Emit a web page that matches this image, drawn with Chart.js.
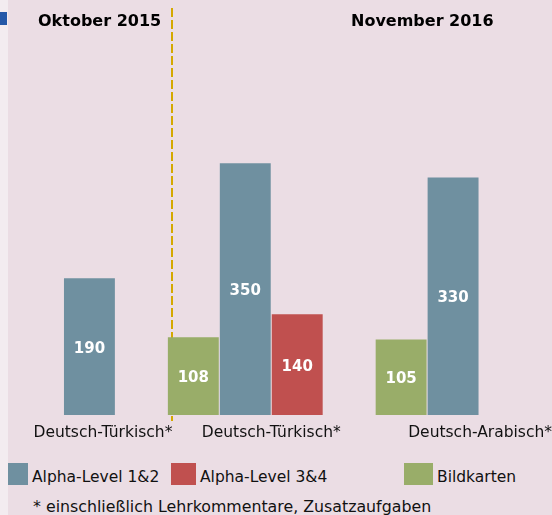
<!DOCTYPE html>
<html>
<head>
<meta charset="utf-8">
<script src="https://cdn.jsdelivr.net/npm/chart.js@4.4.1/dist/chart.umd.min.js"></script>
<style>
  html, body { margin: 0; padding: 0; }
  body {
    width: 552px; height: 515px; position: relative; overflow: hidden;
    background: #ebdde4; color: #111;
    font-family: "DejaVu Sans", Verdana, sans-serif;
  }
  .strip { position: absolute; left: 0; top: 0; width: 8px; height: 515px; background: #f3ecf0; }
  .mark { position: absolute; left: 0; top: 12px; width: 7px; height: 13px; background: #2458a8; }
  #wrap { position: absolute; left: 0; top: 0; width: 552px; height: 441px; }
  .title { position: absolute; top: 11px; font-size: 16px; line-height: 19px; font-weight: bold; color: #000; white-space: nowrap; }
  .lg-box { position: absolute; top: 463px; height: 22px; }
  .lg-text { position: absolute; top: 468px; font-size: 15.5px; line-height: 18px; white-space: nowrap; }
  .note { position: absolute; left: 33px; top: 498px; font-size: 15.8px; line-height: 18px; white-space: nowrap; }
</style>
</head>
<body>
<div class="strip"></div>
<div class="mark"></div>
<div id="wrap"><canvas id="chart" width="552" height="441"></canvas></div>
<div id="titles"></div>
<div id="legend"></div>
<div class="note">* einschließlich Lehrkommentare, Zusatzaufgaben</div>

<script>
// data
const groups = ['Deutsch-Türkisch*', 'Deutsch-Türkisch*', 'Deutsch-Arabisch*'];
const periods = ['Oktober 2015', 'November 2016'];
const seriesNames = ['Alpha-Level 1&2', 'Alpha-Level 3&4', 'Bildkarten'];
const alpha12 = [190, 350, 330];
const alpha34 = [null, 140, null];
const bildkarten = [null, 108, 105];

// layout: every group has three bar slots (Bildkarten, 1&2, 3&4), one spare slot before the Arabic group
const groupStart = [0, 3, 7];
const nSlots = 10;
const labelAt = [1.76, 5.0, 9.02];   // where the group names sit, in slot units
const dividerAt = 3.09;               // dashed line between the two periods
const colors = ['#6f90a0', '#c0504f', '#99ad69'];

function toSlots(values, within) {
  const out = new Array(nSlots).fill(null);
  values.forEach((v, g) => { out[groupStart[g] + within] = v; });
  return out;
}

const font = '"DejaVu Sans", Verdana, sans-serif';

const dividerLine = {
  id: 'dividerLine',
  beforeDatasetsDraw(chart) {
    const ctx = chart.ctx;
    const x = Math.round(chart.scales.xl.getPixelForValue(dividerAt));
    ctx.save();
    ctx.strokeStyle = '#d4a800';
    ctx.lineWidth = 2;
    ctx.setLineDash([9, 3]);
    ctx.beginPath();
    ctx.moveTo(x, 8);
    ctx.lineTo(x, chart.chartArea.bottom + 6);
    ctx.stroke();
    ctx.restore();
  }
};

const barValues = {
  id: 'barValues',
  afterDatasetsDraw(chart) {
    const ctx = chart.ctx;
    ctx.save();
    ctx.fillStyle = '#fff';
    ctx.font = 'bold 15px ' + font;
    ctx.textAlign = 'center';
    ctx.textBaseline = 'middle';
    chart.data.datasets.forEach((ds, i) => {
      chart.getDatasetMeta(i).data.forEach((el, j) => {
        const v = ds.data[j];
        if (v == null) return;
        ctx.fillText(v, el.x, (el.y + el.base) / 2 + 2);
      });
    });
    ctx.restore();
  }
};

const chart = new Chart(document.getElementById('chart'), {
  type: 'bar',
  data: {
    labels: Array.from({ length: nSlots }, (_, i) => String(i)),
    datasets: [
      { label: seriesNames[0], data: toSlots(alpha12, 1), backgroundColor: colors[0] },
      { label: seriesNames[1], data: toSlots(alpha34, 2), backgroundColor: colors[1] },
      { label: seriesNames[2], data: toSlots(bildkarten, 0), backgroundColor: colors[2] }
    ]
  },
  options: {
    responsive: false,
    animation: false,
    layout: { padding: { left: 11.5, right: 21, top: 12, bottom: 0 } },
    datasets: { bar: { barPercentage: 0.98, categoryPercentage: 1 } },
    plugins: { legend: { display: false }, tooltip: { enabled: false } },
    scales: {
      x: { type: 'category', stacked: true, display: false },
      xl: {
        type: 'linear', position: 'bottom', min: 0, max: nSlots, offset: false,
        grid: { display: false, drawTicks: false, offset: false },
        border: { display: false },
        afterBuildTicks: ax => { ax.ticks = labelAt.map(v => ({ value: v })); },
        afterFit: ax => { ax.paddingLeft = 0; ax.paddingRight = 0; ax.height = 26; },
        ticks: {
          autoSkip: false, maxRotation: 0, padding: 9, color: '#111',
          font: { family: font, size: 15.5 },
          callback: (v, i) => groups[i]
        }
      },
      y: { stacked: true, display: false, min: 0, max: 560 }
    }
  },
  plugins: [dividerLine, barValues]
});

// period titles
const titleLeft = [38, 351];
document.getElementById('titles').innerHTML = periods.map((p, i) =>
  `<div class="title" style="left:${titleLeft[i]}px">${p}</div>`).join('');

// legend built from the datasets
const legendPos = [{ box: 8, w: 20, text: 32 }, { box: 171, w: 25, text: 200 }, { box: 404, w: 29, text: 437 }];
document.getElementById('legend').innerHTML = chart.data.datasets.map((ds, i) => {
  const p = legendPos[i];
  return `<div class="lg-box" style="left:${p.box}px;width:${p.w}px;background:${ds.backgroundColor}"></div>` +
         `<div class="lg-text" style="left:${p.text}px">${ds.label}</div>`;
}).join('');
</script>
</body>
</html>
